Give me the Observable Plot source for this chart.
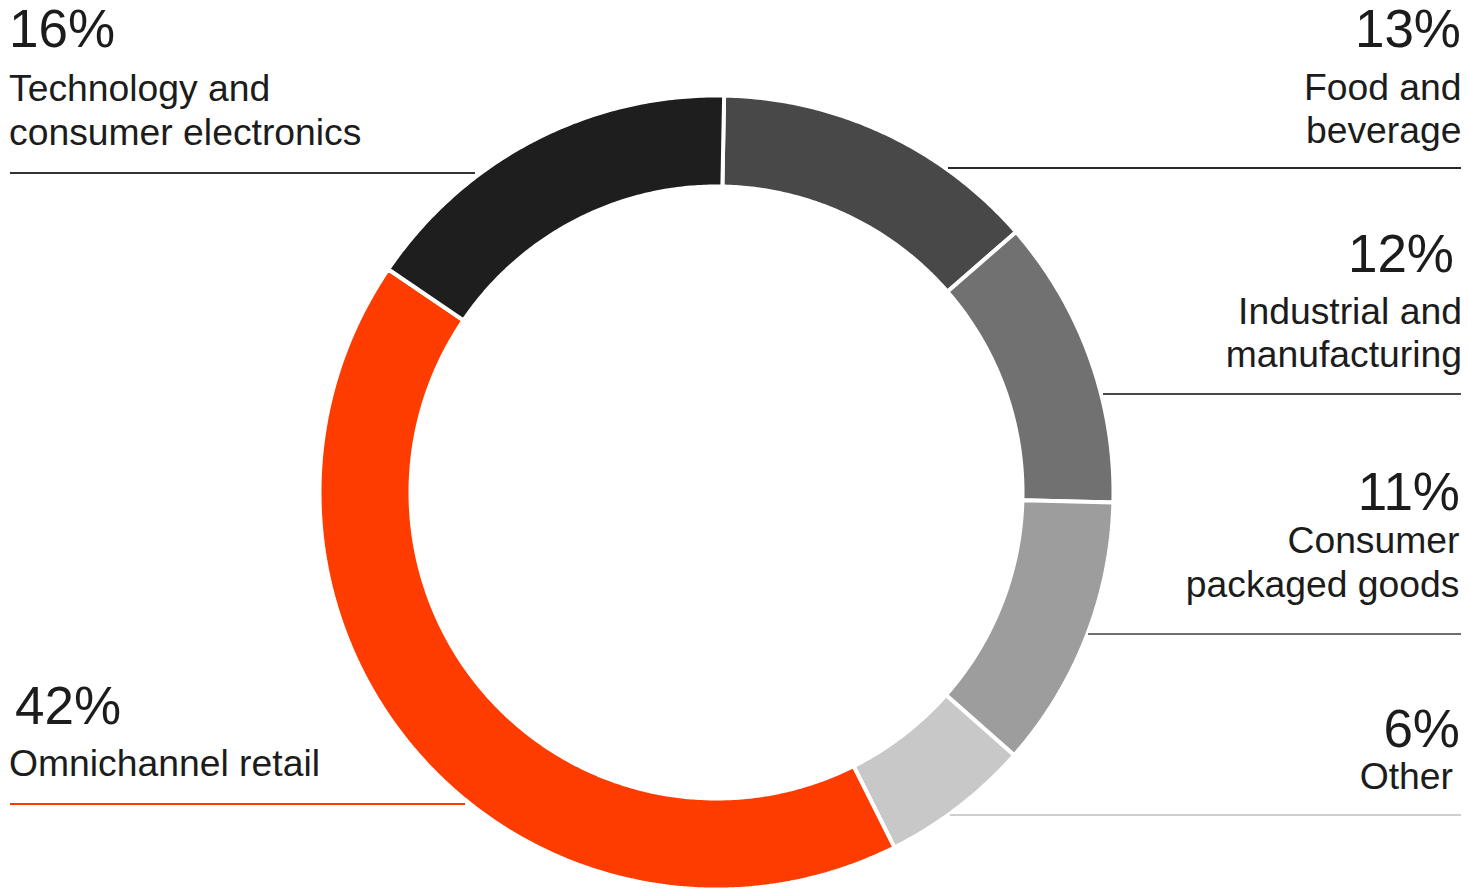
<!DOCTYPE html>
<html><head><meta charset="utf-8">
<script src="https://cdn.jsdelivr.net/npm/d3@7"></script>
<script src="https://cdn.jsdelivr.net/npm/@observablehq/plot@0.6"></script>
<style>
html,body{margin:0;padding:0;overflow:hidden;background:#fff;}
#wrap{position:relative;width:1468px;height:888px;overflow:hidden;font-family:"Liberation Sans",Arial,sans-serif;color:#1c1c1c;}
#chart{position:absolute;left:0;top:0;}
.pct{position:absolute;font-size:53px;line-height:53px;white-space:nowrap;}
.lab{position:absolute;font-size:37.3px;line-height:44px;white-space:nowrap;}
.rule{position:absolute;height:2px;}
</style></head><body><div id="wrap"><div id="chart"></div></div>
<script>
// ---- data ----
const categories = ["Food and beverage","Industrial and manufacturing","Consumer packaged goods","Other","Omnichannel retail","Technology and consumer electronics"];
// shares (labels show them rounded)
const values = [13.3, 11.8, 11.1, 6.1, 41.9, 15.8];
const pctLabels = ["13%","12%","11%","6%","42%","16%"];
const labelLines = [["Food and","beverage"],["Industrial and","manufacturing"],["Consumer","packaged goods"],["Other"],["Omnichannel retail"],["Technology and","consumer electronics"]];
const colors = ["#484848","#717171","#9d9d9d","#c8c8c8","#ff3c00","#1e1e1e"];
const ruleColors = ["#2b2b2b","#484848","#6e6e6e","#cfcfcf","#ff3c00","#333333"];

// ---- layout (style only) ----
const W = 1468, H = 890;
const cx = 716, cy = 492, R = 397, r = 306, startDeg = 1.1;
const layout = [
  {side:"r", pctB:47,  pctX:7,  labB:[100,143], labX:6.5, ruleY:167, rx0:948,  rx1:1461},
  {side:"r", pctB:272, pctX:14, labB:[324,367], labX:6,   ruleY:393, rx0:1103, rx1:1461},
  {side:"r", pctB:510, pctX:8,  labB:[553,597], labX:8.5, ruleY:633, rx0:1088, rx1:1461},
  {side:"r", pctB:747, pctX:8,  labB:[789],     labX:15,  ruleY:814, rx0:950,  rx1:1461},
  {side:"l", pctB:724, pctX:15, labB:[776],     labX:9,   ruleY:803, rx0:10,   rx1:465},
  {side:"l", pctB:47,  pctX:9,  labB:[101,145], labX:9,   ruleY:172, rx0:10,   rx1:475}
];

// ---- donut geometry via azimuthal projection centred on the pole ----
const outerColat = 90, innerColat = 90 * r / R;
const total = d3.sum(values);
let acc = 0;
const features = values.map((v, i) => {
  const a0 = startDeg + acc / total * 360;
  acc += v;
  const a1 = startDeg + acc / total * 360;
  const n = Math.max(2, Math.ceil((a1 - a0) / 0.5));
  const pts = [];
  for (let k = 0; k <= n; k++) { const a = a0 + (a1 - a0) * k / n; pts.push([180 - a, 90 - outerColat]); }
  for (let k = n; k >= 0; k--) { const a = a0 + (a1 - a0) * k / n; pts.push([180 - a, 90 - innerColat]); }
  pts.push(pts[0]);
  let f = {type:"Feature", properties:{category: categories[i], value: v}, geometry:{type:"Polygon", coordinates:[pts]}};
  if (d3.geoArea(f) > 2 * Math.PI) f.geometry.coordinates = [pts.slice().reverse()];
  return f;
});
const domainCircle = d3.geoCircle().center([0, 90]).radius(outerColat)();

const chart = Plot.plot({
  width: W, height: H, margin: 0,
  projection: {
    type: "azimuthal-equidistant", rotate: [0, -90], domain: domainCircle,
    insetLeft: cx - R, insetRight: W - (cx + R), insetTop: cy - R, insetBottom: H - (cy + R)
  },
  color: {domain: categories, range: colors},
  marks: [
    Plot.geo(features, {fill: d => d.properties.category, stroke: "white", strokeWidth: 4, strokeLinejoin: "miter"})
  ]
});
document.getElementById("chart").appendChild(chart);

// ---- labels ----
const wrap = document.getElementById("wrap");
values.forEach((v, i) => {
  const L = layout[i];
  const p = document.createElement("div");
  p.className = "pct";
  p.textContent = pctLabels[i];
  p.style.top = (L.pctB - 44.9) + "px";
  if (L.side === "r") p.style.right = L.pctX + "px"; else p.style.left = L.pctX + "px";
  wrap.appendChild(p);
  labelLines[i].forEach((t, j) => {
    const d = document.createElement("div");
    d.className = "lab";
    d.textContent = t;
    d.style.top = (L.labB[j] - 35) + "px";
    if (L.side === "r") d.style.right = L.labX + "px"; else d.style.left = L.labX + "px";
    wrap.appendChild(d);
  });
  const ru = document.createElement("div");
  ru.className = "rule";
  ru.style.top = L.ruleY + "px";
  ru.style.left = L.rx0 + "px";
  ru.style.width = (L.rx1 - L.rx0) + "px";
  ru.style.background = ruleColors[i];
  wrap.appendChild(ru);
});
</script></body></html>
